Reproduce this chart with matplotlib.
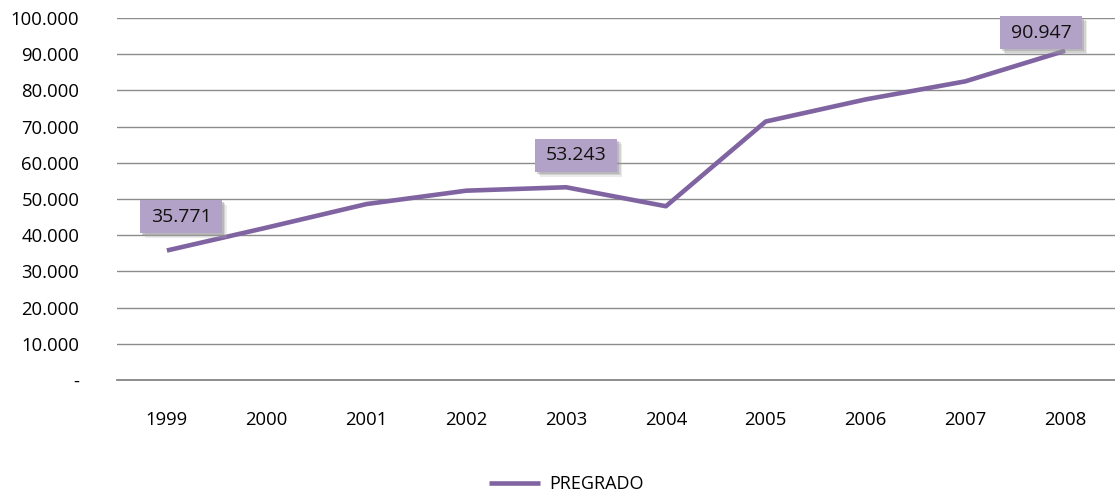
import matplotlib
matplotlib.use("Agg")
import matplotlib.pyplot as plt
import matplotlib.patheffects as pe
from matplotlib.patches import Rectangle
from matplotlib.transforms import ScaledTranslation
from matplotlib.ticker import FuncFormatter

years = ["1999", "2000", "2001", "2002", "2003", "2004", "2005", "2006", "2007", "2008"]
pregrado = [35771, 42100, 48600, 52300, 53243, 48000, 71400, 77500, 82500, 90947]
# label box centre offsets (pixels, right/up) from their points
labeled = {0: (14, 34), 4: (10, 32), 9: (-24, 18)}

plt.rcParams['font.family'] = ['Open Sans', 'DejaVu Sans']

fig = plt.figure(figsize=(11.15, 4.92), dpi=100)
ax = fig.add_axes([117/1115, 1-380/492, 1-117/1115, (380-18)/492])

x = list(range(len(years)))
ax.plot(x, pregrado, color="#8064A2", lw=3.3, solid_capstyle="butt", label="PREGRADO", zorder=3)

ax.set_xlim(-0.5, len(years)-0.5)
ax.set_ylim(0, 100000)
ax.set_yticks(range(0, 100001, 10000))
ax.yaxis.set_major_formatter(FuncFormatter(lambda v, p: "-" if v == 0 else f"{int(v):,}".replace(",", ".")))
ax.set_xticks(x)
ax.set_xticklabels(years)
ax.tick_params(axis="both", length=0, labelsize=13.3, colors="#000000")
ax.tick_params(axis="y", pad=27)
ax.tick_params(axis="x", pad=22)
ax.grid(axis="y", color="#8c8c8c", lw=1)
ax.axhline(0, color="#868686", lw=1.3, clip_on=False, zorder=1)
ax.set_axisbelow(True)
for s in ax.spines.values():
    s.set_visible(False)

W, H = 0.82, 0.33  # inches (= pixels/100)
for i, (dx, dy) in labeled.items():
    v = pregrado[i]
    tr = fig.dpi_scale_trans + ScaledTranslation(i, v, ax.transData)
    cx, cy = dx / 100, dy / 100
    r = Rectangle((cx - W/2, cy - H/2), W, H, transform=tr, fc="#B3A2C7", ec="none",
                  zorder=5, clip_on=False)
    r.set_path_effects([
        pe.SimplePatchShadow(offset=(3.5, -3.5), shadow_rgbFace="#b0b0b0", alpha=0.25),
        pe.SimplePatchShadow(offset=(2.5, -2.5), shadow_rgbFace="#999999", alpha=0.3),
        pe.SimplePatchShadow(offset=(1.5, -1.5), shadow_rgbFace="#888888", alpha=0.35),
        pe.Normal()])
    ax.add_patch(r)
    ax.text(cx, cy, f"{v:,}".replace(",", "."), transform=tr, ha="center", va="center",
            fontsize=14, zorder=6, color="#111111")

fig.legend(loc="lower center", bbox_to_anchor=(0.508, -0.035), frameon=False, fontsize=13,
           handlelength=2.8, handletextpad=0.5)

fig.savefig("out.png", dpi=100)
